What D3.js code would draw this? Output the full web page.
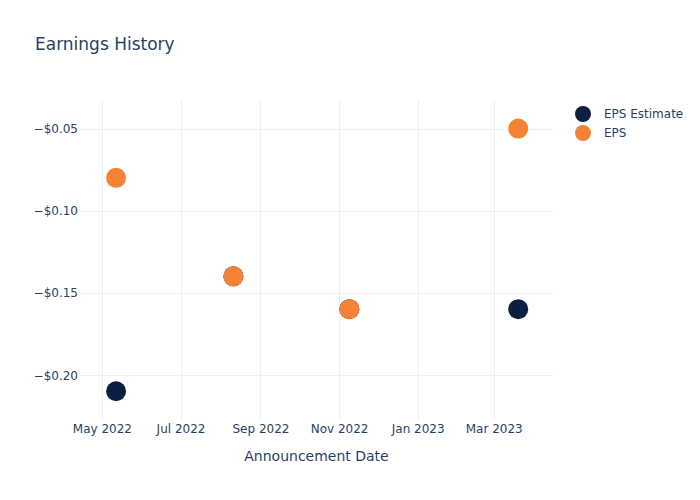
<!DOCTYPE html>
<meta charset="utf-8">
<style>
body { margin: 0; background: #fff; }
svg, .axis, .axis text { font-family: "DejaVu Sans", "Open Sans", sans-serif; }
.grid line { stroke: #ebf0f8; stroke-width: 1px; shape-rendering: crispEdges; }
.axis text { fill: #2a3f5f; font-size: 12px; }
</style>
<body>
<div id="chart"></div>
<script src="https://d3js.org/d3.v7.min.js"></script>
<script>
var dates = ['2022-05-12', '2022-08-11', '2022-11-09', '2023-03-20'];
var epsEstimate = [-0.21, -0.14, -0.16, -0.16];
var eps = [-0.08, -0.14, -0.16, -0.05];
var xTicks = ['2022-05-01', '2022-07-01', '2022-09-01', '2022-11-01', '2023-01-01', '2023-03-01'];
var yTicks = [-0.05, -0.10, -0.15, -0.20];
var seriesNames = ['EPS Estimate', 'EPS'];
var seriesColors = ['#0c1f40', '#f58235'];

var width = 700, height = 500;
var margin = {top: 100, right: 147, bottom: 80, left: 80};
var parse = d3.utcParse('%Y-%m-%d');

var svg = d3.select('#chart').append('svg')
    .attr('width', width)
    .attr('height', height);

var x = d3.scaleUtc()
    .domain([parse('2022-04-14'), parse('2023-04-16')])
    .range([margin.left, width - margin.right]);

var y = d3.scaleLinear()
    .domain([-0.2275, -0.0326])
    .range([height - margin.bottom, margin.top]);

// gridlines
var grid = svg.append('g').attr('class', 'grid');
grid.selectAll('.vx')
    .data(xTicks)
  .enter().append('line')
    .attr('x1', function(d) { return Math.round(x(parse(d))) + 0.5; })
    .attr('x2', function(d) { return Math.round(x(parse(d))) + 0.5; })
    .attr('y1', margin.top)
    .attr('y2', height - margin.bottom);
grid.selectAll('.hy')
    .data(yTicks)
  .enter().append('line')
    .attr('x1', margin.left)
    .attr('x2', width - margin.right)
    .attr('y1', function(d) { return Math.round(y(d)) + 0.5; })
    .attr('y2', function(d) { return Math.round(y(d)) + 0.5; });

// axes
var fmtY = function(d) { return '\u2212$' + Math.abs(d).toFixed(2); };
var yAxis = svg.append('g')
    .attr('class', 'axis')
    .attr('transform', 'translate(' + (margin.left - 2) + ',0)')
    .call(d3.axisLeft(y).tickValues(yTicks).tickFormat(fmtY).tickSize(0).tickPadding(0));
yAxis.select('.domain').remove();
yAxis.selectAll('text').attr('dy', '0.35em');

var xAxis = svg.append('g')
    .attr('class', 'axis')
    .attr('transform', 'translate(0,' + (height - margin.bottom) + ')')
    .call(d3.axisBottom(x).tickValues(xTicks.map(parse))
      .tickFormat(d3.utcFormat('%b %Y')).tickSize(0).tickPadding(4));
xAxis.select('.domain').remove();

svg.append('text')
    .attr('x', (margin.left + width - margin.right) / 2)
    .attr('y', 461)
    .attr('text-anchor', 'middle')
    .attr('fill', '#2a3f5f')
    .style('font-size', '14px')
    .text('Announcement Date');

svg.append('text')
    .attr('x', 35)
    .attr('y', 50)
    .attr('fill', '#2a3f5f')
    .style('font-size', '17px')
    .text('Earnings History');

// markers
var series = [epsEstimate, eps];
series.forEach(function(vals, s) {
  svg.append('g').selectAll('circle')
      .data(vals)
    .enter().append('circle')
      .attr('cx', function(d, i) { return x(parse(dates[i])); })
      .attr('cy', function(d) { return y(d); })
      .attr('r', 10)
      .attr('fill', seriesColors[s]);
});

// legend
var legend = svg.append('g').attr('transform', 'translate(583,114)');
var item = legend.selectAll('g')
    .data(seriesNames)
  .enter().append('g')
    .attr('transform', function(d, i) { return 'translate(0,' + (i * 19) + ')'; });
item.append('circle')
    .attr('r', 8)
    .attr('fill', function(d, i) { return seriesColors[i]; });
item.append('text')
    .attr('x', 21)
    .attr('dy', '0.35em')
    .attr('fill', '#2a3f5f')
    .style('font-size', '12px')
    .text(function(d) { return d; });
</script>
</body>
